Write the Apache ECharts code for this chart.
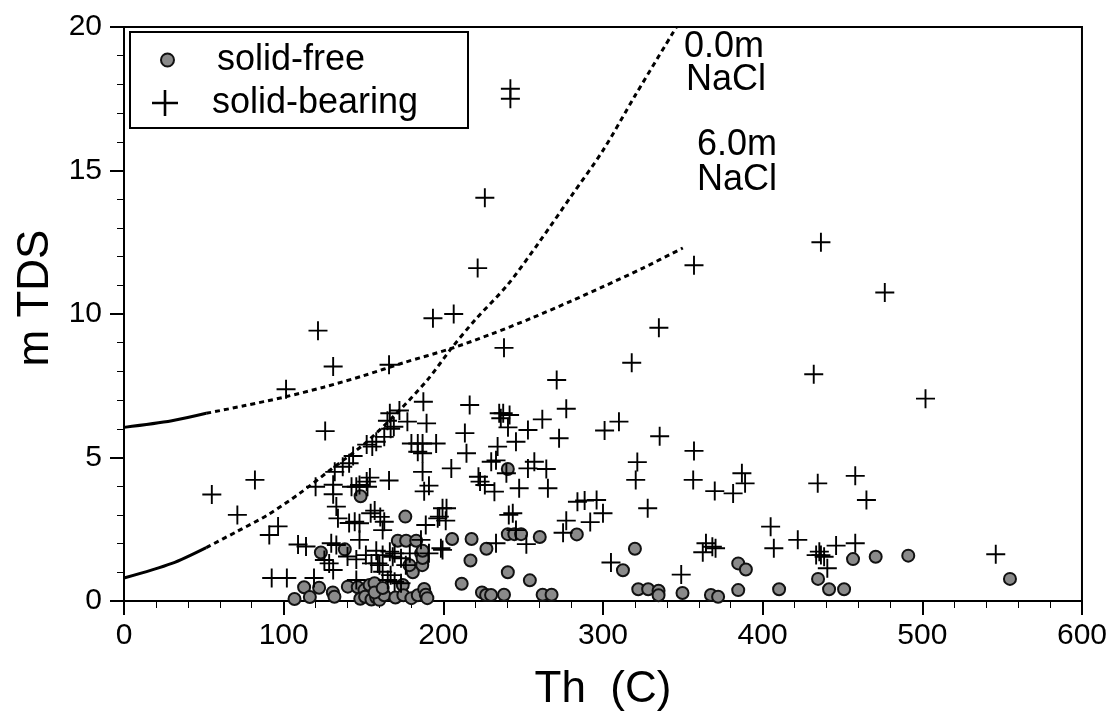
<!DOCTYPE html>
<html>
<head>
<meta charset="utf-8">
<script src="https://cdn.jsdelivr.net/npm/echarts@6/dist/echarts.min.js"></script>
<style>
html,body{margin:0;padding:0;background:#fff;}
#chart{width:1110px;height:721px;}
</style>
</head>
<body>
<div id="chart"></div>
<script>
// ---- data ----
const xTicks = [0, 100, 200, 300, 400, 500, 600];
const yTicks = [0, 5, 10, 15, 20];

const solidFree = [
  [106.8,0.07],[112.8,0.48],[116.4,0.14],[122.2,0.46],[123.3,1.69],[130.8,0.3],[131.8,0.15],[138.3,1.8],[148.2,3.65],
  [140.2,0.5],[146.4,0.48],[150.6,0.38],[153.8,0.56],[156.9,0.62],[148,0.08],[151,0.15],[155,0.05],[158,0.12],[160,0.04],
  [163,0.2],[157,0.3],[162,0.45],[176.2,2.94],[171.5,2.1],[176.7,2.1],[183,2.1],[186.1,1.66],[186.8,1.25],[180.9,1.0],
  [178.8,1.25],[174.6,0.56],[170,0.12],[175,0.2],[180,0.1],[184,0.2],[188,0.42],[189,0.22],[187,1.5],[187,1.75],[190,0.1],
  [205.5,2.16],[217.7,2.16],[227,1.82],[217,1.41],[211.5,0.6],[224.2,0.3],[226.8,0.21],[229.9,0.21],[238,0.22],[240.4,4.6],
  [240.4,2.33],[244.5,2.33],[248.7,2.33],[260.4,2.23],[240.4,1.0],[254.2,0.72],[262.2,0.22],[267.8,0.22],[283.6,2.32],
  [320,1.82],[312.5,1.07],[322.1,0.41],[328.3,0.41],[334.8,0.36],[334.8,0.2],[349.8,0.28],[367.6,0.21],[372.1,0.15],
  [384.7,1.31],[389.5,1.1],[384.7,0.38],[410.3,0.41],[434.7,0.77],[441.6,0.41],[451,0.41],[456.6,1.46],[470.8,1.54],
  [491.2,1.58],[554.9,0.77]
];

const solidBearing = [
  [242,17.85],[242,17.5],[226,14.05],[221.5,11.6],[357,11.7],[436.5,12.5],[476.5,10.75],[432,7.9],[502,7.05],[335,9.52],
  [318,8.3],[238,8.82],[206.5,10.0],[193.5,9.85],[121.5,9.42],[131,8.17],[166,8.23],[101.5,7.38],[271,7.7],[126,5.92],
  [55,3.71],[82,4.22],[71,3.0],[91,2.3],[96.5,2.6],[92.5,0.8],[102,0.8],[119,0.8],[109,1.97],[114,1.9],[120,3.98],
  [131,3.72],[131,4.05],[132,4.5],[137,4.68],[141,4.8],[143.5,5.05],[152,5.45],[155.5,5.38],[158,5.55],[163,5.72],
  [165,6.28],[169,6.07],[167,6.0],[166.5,6.54],[172.5,6.64],[177.5,6.25],[187.5,6.94],[189.5,6.19],[180,5.49],[184,5.49],
  [187,5.49],[195.5,5.49],[184,5.2],[187,5.15],
  [133,3.29],[134,2.88],[147.5,4.04],[152,4.16],[154,4.3],[152.5,3.98],[145.5,3.98],[142.5,3.98],[166,4.2],[187,4.5],
  [191,4.02],[188,3.82],[141,2.72],[144.5,2.76],[147.5,2.71],[154.5,3.06],[157,3.15],[160.5,2.93],[163,2.76],[162,2.47],
  [199.5,3.23],[196.5,2.88],[201.5,2.8],[189,2.65],
  [147.5,2.13],[145.5,1.45],[151.5,1.6],[129.8,2.01],[133,1.95],[125.5,1.43],[128.5,1.31],[131,1.08],[160,1.25],[162,1.02],
  [167,0.9],[169.5,0.67],[173.5,0.62],[166.5,1.72],[169.5,1.66],[173.5,1.49],[176.5,1.25],[179,1.66],[186,2.13],[198.5,1.84],
  [191,1.66],[199.5,1.78],[155,1.31],[145.5,0.73],[158,1.75],[140,1.55],[159,1.31],[162,1.6],[168.3,1.54],[165.2,0.73],
  [216.5,6.83],[235,6.54],[237.5,6.54],[241.5,6.48],[236,6.37],[240.5,6.05],[277,6.7],[262,6.33],[253,5.96],[245.5,5.55],
  [272.5,5.67],[213.5,5.85],[214.5,5.15],[234,5.38],[205,4.62],[222,4.33],[223,4.16],[226,4.04],[230,4.85],[233,4.9],
  [232,3.81],[239.5,4.45],[247.5,3.93],[253,4.62],[257,4.85],[264.5,4.6],[265.5,3.93],[202,3.23],[197.5,2.94],[241,3.0],
  [243.5,3.06],[245.5,2.47],[252,1.98],[233,2.01],[277,2.8],[275,2.38],[284,3.46],[288.5,3.5],[296,3.52],[300,3.06],[292,2.75],
  [301,5.94],[310,6.25],[335.5,5.74],[321.5,4.84],[320.5,4.22],[357,5.23],[356.5,4.22],[370,3.83],[381.5,3.75],[387,4.45],
  [389,4.1],[328,3.23],[305,1.34],[349,0.92],[364.5,2.01],[362.5,1.7],[368.5,1.89],[370.5,1.84],[434.5,4.1],[458,4.36],
  [465,3.52],[405,2.59],[407,1.84],[422,2.13],[433.5,1.6],[435.5,1.72],[436.5,1.6],[438.5,1.54],[440.5,1.14],[446,1.93],
  [458,2.01],[546,1.63]
];

// 0.0 m NaCl curve: solid part then dotted part
const curve0Solid = [[0,0.8],[30,1.31],[51.5,1.86]];
const curve0Dotted = [[51.5,1.86],[70,2.4],[90,3.0],[110,3.75],[130,4.6],[150,5.45],[170,6.5],[190,7.7],[205,8.8],
  [220,9.8],[240,11.0],[260,12.5],[280,14.1],[300,15.7],[320,17.6],[346,20]];
// 6.0 m NaCl curve
const curve6Solid = [[0,6.05],[30,6.28],[51.5,6.54]];
const curve6Dotted = [[51.5,6.54],[75,6.8],[100,7.1],[125,7.45],[150,7.85],[175,8.3],[205,8.8],[230,9.3],[255,9.85],
  [280,10.45],[300,10.95],[325,11.6],[350,12.3]];

const seriesNames = ['solid-free', 'solid-bearing'];
const curveLabels = [['0.0m', 'NaCl'], ['6.0m', 'NaCl']];

// ---- chart ----
const FONT = '"Liberation Sans", Arial, Helvetica, sans-serif';
const crossPath = 'path://M9,0H11V9H20V11H11V20H9V11H0V9H9Z';
const chart = echarts.init(document.getElementById('chart'), null, {renderer: 'canvas'});

const lineSolid = {color: '#000', width: 3, type: 'solid'};
const lineDotted = {color: '#000', width: 3, type: [5, 4]};

const option = {
  animation: false,
  backgroundColor: '#fff',
  grid: {left: 124, right: 27, top: 27, bottom: 120, show: true, borderColor: '#000', borderWidth: 2, backgroundColor: 'transparent'},
  xAxis: {
    type: 'value', min: xTicks[0], max: xTicks[xTicks.length - 1], interval: 100,
    name: 'Th  (C)', nameLocation: 'middle', nameGap: 67,
    nameTextStyle: {fontFamily: FONT, fontSize: 44, color: '#000'},
    axisLine: {show: true, lineStyle: {color: '#000', width: 2}},
    axisTick: {show: true, inside: false, length: 14, lineStyle: {color: '#000', width: 2}},
    minorTick: {show: true, splitNumber: 5, length: 7, lineStyle: {color: '#000', width: 1}},
    axisLabel: {fontFamily: FONT, fontSize: 30, color: '#000', margin: 20},
    splitLine: {show: false}
  },
  yAxis: {
    type: 'value', min: yTicks[0], max: yTicks[yTicks.length - 1], interval: 5,
    name: 'm TDS', nameLocation: 'middle', nameGap: 50,
    nameTextStyle: {fontFamily: FONT, fontSize: 44, color: '#000', padding: [0, 0, 0, 32]},
    axisLine: {show: true, lineStyle: {color: '#000', width: 2}},
    axisTick: {show: true, inside: false, length: 14, lineStyle: {color: '#000', width: 2}},
    minorTick: {show: true, splitNumber: 5, length: 7, lineStyle: {color: '#000', width: 1}},
    axisLabel: {fontFamily: FONT, fontSize: 30, color: '#000', margin: 22},
    splitLine: {show: false}
  },
  legend: [
    {
      data: [seriesNames[0]], left: 160, top: 40, orient: 'vertical', padding: 0,
      itemWidth: 13, itemHeight: 13,
      textStyle: {fontFamily: FONT, fontSize: 36, color: '#000', lineHeight: 40, padding: [0, 0, 0, 38]}
    },
    {
      data: [seriesNames[1]], left: 152, top: 83, orient: 'vertical', padding: 0,
      itemWidth: 26, itemHeight: 26,
      textStyle: {fontFamily: FONT, fontSize: 36, color: '#000', lineHeight: 40, padding: [0, 0, 0, 29]}
    }
  ],
  graphic: [
    {type: 'rect', z: 100, silent: true, shape: {x: 130, y: 32, width: 338, height: 96},
     style: {fill: 'none', stroke: '#000', lineWidth: 2}},
    {type: 'text', z: 100, x: 684, y: 47, style: {text: curveLabels[0][0], font: '36px ' + FONT, fill: '#000', verticalAlign: 'middle'}},
    {type: 'text', z: 100, x: 686, y: 80, style: {text: curveLabels[0][1], font: '36px ' + FONT, fill: '#000', verticalAlign: 'middle'}},
    {type: 'text', z: 100, x: 697, y: 145, style: {text: curveLabels[1][0], font: '36px ' + FONT, fill: '#000', verticalAlign: 'middle'}},
    {type: 'text', z: 100, x: 697, y: 180, style: {text: curveLabels[1][1], font: '36px ' + FONT, fill: '#000', verticalAlign: 'middle'}}
  ],
  series: [
    {type: 'line', data: curve0Solid, smooth: 0.3, showSymbol: false, lineStyle: lineSolid, z: 2, silent: true, clip: true},
    {type: 'line', data: curve0Dotted, smooth: 0.3, showSymbol: false, lineStyle: lineDotted, z: 2, silent: true, clip: true},
    {type: 'line', data: curve6Solid, smooth: 0.3, showSymbol: false, lineStyle: lineSolid, z: 2, silent: true, clip: true},
    {type: 'line', data: curve6Dotted, smooth: 0.3, showSymbol: false, lineStyle: lineDotted, z: 2, silent: true, clip: true},
    {
      name: seriesNames[0], type: 'scatter', data: solidFree, symbol: 'circle', symbolSize: 12, z: 3,
      itemStyle: {color: '#8a8a8a', borderColor: '#111', borderWidth: 2, opacity: 1}
    },
    {
      name: seriesNames[1], type: 'scatter', data: solidBearing, symbol: crossPath, symbolSize: 19, z: 4,
      itemStyle: {color: '#000', opacity: 1}
    }
  ]
};
chart.setOption(option);
</script>
</body>
</html>
